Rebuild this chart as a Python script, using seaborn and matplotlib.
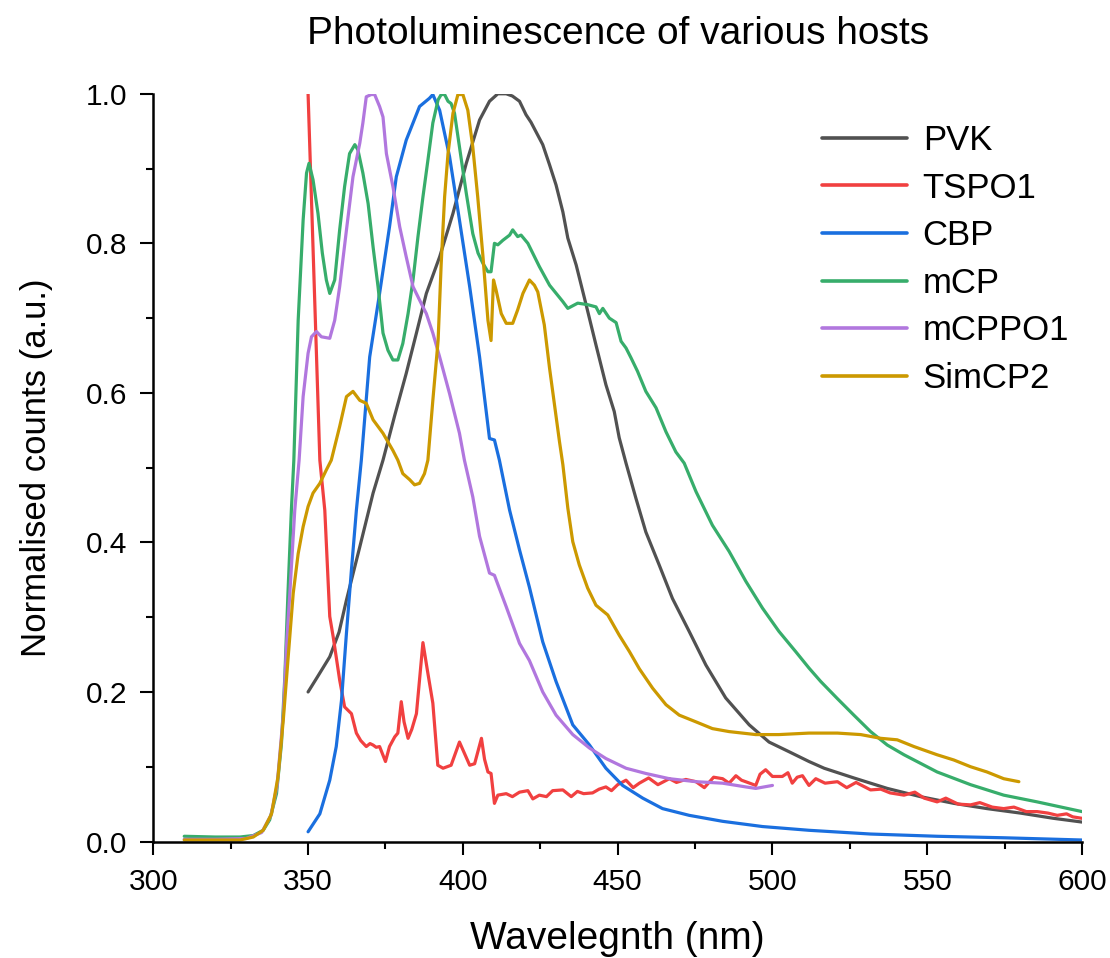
import numpy as np
import pandas as pd
import seaborn as sns
import matplotlib
matplotlib.use("Agg")
import matplotlib.pyplot as plt
from matplotlib.ticker import MultipleLocator, FormatStrFormatter

hosts = ["PVK", "TSPO1", "CBP", "mCP", "mCPPO1", "SimCP2"]
colors = ["#515151", "#F14040", "#1A6FDF", "#37AD6B", "#B177DE", "#CC9900"]

pvk_x = [350, 353, 357, 360, 362.4, 366.7, 371, 374.2, 378, 381.7, 385, 388.2, 392.5, 396.8, 401.1,
         405.4, 408.6, 411.3, 414, 416, 418.3, 420.4, 422, 425.8, 428, 430.1, 432.3, 433.9, 436.6,
         439.8, 443, 446.2, 448.9, 450.5, 452.7, 455.9, 459.1, 463.4, 467.7, 473.1, 478.5, 484.9,
         492.5, 498.9, 505.4, 511.8, 516.7, 526.3, 537.1, 547.8, 558.6, 569.3, 580.1, 590.8, 600]
pvk_y = [0.200, 0.220, 0.247, 0.280, 0.323, 0.394, 0.466, 0.510, 0.570, 0.626, 0.680, 0.733, 0.782,
         0.840, 0.907, 0.965, 0.990, 1.0, 1.0, 0.997, 0.99, 0.972, 0.962, 0.932, 0.905, 0.878, 0.842,
         0.807, 0.771, 0.718, 0.664, 0.611, 0.575, 0.540, 0.506, 0.459, 0.414, 0.370, 0.325, 0.281,
         0.236, 0.192, 0.156, 0.133, 0.120, 0.107, 0.098, 0.085, 0.071, 0.060, 0.051, 0.044, 0.038,
         0.031, 0.026]

tspo_x = [350, 351, 352.5, 353.8, 355.4, 357, 358.1, 360.2, 361.8, 364, 365.6, 367, 368.8, 370, 371,
          372, 373.1, 375, 376.3, 378, 379, 380.1, 381, 382.3, 383.5, 385, 387.1, 388.5, 390.3, 391.9,
          393.6, 396.2, 398.9, 400.5, 402.2, 403.8, 406, 407, 408.1, 409.1, 410.2, 411.3, 414, 416,
          418.3, 421, 422.6, 424.7, 427, 429, 432.3, 435, 437, 439, 441.9, 444, 446.2, 448, 450,
          452.7, 455, 457, 460, 463, 466.7, 469, 472, 475.3, 478, 481, 483.9, 486, 488.2, 490, 492,
          494.6, 496, 497.8, 500, 503.2, 505, 506.4, 508, 509.7, 511.8, 514, 517, 521, 524, 527,
          531.7, 535, 538, 542.5, 546, 549, 553.2, 556, 560, 564, 567, 571, 574.7, 578, 582, 585.5,
          589, 592, 595, 597, 600]
tspo_y = [1.0, 0.871, 0.678, 0.51, 0.443, 0.301, 0.274, 0.216, 0.180, 0.171, 0.145, 0.135, 0.127,
          0.131, 0.129, 0.126, 0.127, 0.107, 0.127, 0.140, 0.145, 0.187, 0.160, 0.138, 0.150, 0.171,
          0.266, 0.230, 0.185, 0.102, 0.098, 0.102, 0.133, 0.118, 0.102, 0.104, 0.138, 0.110, 0.093,
          0.091, 0.051, 0.062, 0.064, 0.060, 0.066, 0.068, 0.057, 0.062, 0.060, 0.068, 0.069, 0.060,
          0.067, 0.064, 0.065, 0.070, 0.073, 0.068, 0.076, 0.082, 0.072, 0.078, 0.085, 0.076, 0.084,
          0.079, 0.083, 0.080, 0.072, 0.086, 0.084, 0.078, 0.088, 0.082, 0.079, 0.075, 0.090, 0.096,
          0.087, 0.087, 0.092, 0.078, 0.086, 0.088, 0.075, 0.084, 0.078, 0.080, 0.072, 0.079, 0.069,
          0.070, 0.065, 0.062, 0.066, 0.058, 0.053, 0.058, 0.050, 0.049, 0.052, 0.046, 0.044, 0.046,
          0.040, 0.040, 0.038, 0.035, 0.037, 0.033, 0.031]

cbp_x = [350, 353.8, 357, 359.1, 360.8, 362.4, 364, 365.6, 367.2, 369.9, 373.1, 376.3, 378.5, 381.7,
         383.9, 386, 389.2, 390.3, 392.5, 395.7, 398.9, 402.2, 405.4, 408.6, 410.2, 411.8, 415.1,
         418.3, 421.5, 425.8, 430.1, 435.5, 440.9, 446.2, 451.6, 458.1, 464.5, 473.1, 483.9, 496.8,
         511.8, 531.7, 553.2, 574.7, 600]
cbp_y = [0.013, 0.037, 0.082, 0.127, 0.189, 0.279, 0.363, 0.443, 0.510, 0.648, 0.733, 0.822, 0.889,
         0.938, 0.961, 0.983, 0.994, 0.999, 0.978, 0.916, 0.831, 0.742, 0.648, 0.539, 0.537, 0.510,
         0.443, 0.390, 0.340, 0.267, 0.214, 0.156, 0.129, 0.098, 0.075, 0.058, 0.044, 0.035, 0.027,
         0.020, 0.015, 0.010, 0.007, 0.005, 0.002]

mcp_x = [310, 320, 328, 332.3, 335.5, 337.6, 339.8, 341.4, 342.5, 343.5, 344.6, 345.4, 346.8, 348.4,
         349.5, 350.3, 351.6, 353.2, 354.6, 355.9, 357, 358.6, 360.2, 361.8, 363.4, 365.1, 366.1,
         367.7, 369.4, 371, 372.6, 374.2, 375.8, 377.4, 379, 380.6, 382.3, 383.9, 385.5, 387.1,
         388.7, 390.3, 392, 393, 394.1, 395.2, 396.2, 397.3, 398.9, 401.1, 403.2, 404.9, 406.5,
         408.1, 409.1, 410.2, 411.3, 412.9, 415.1, 416.1, 417.7, 418.8, 421, 424.7, 428, 432.3,
         433.9, 437.1, 440.3, 443, 444.1, 445.2, 447.3, 449.5, 451.1, 452.7, 454.3, 456.4, 459.1,
         462.4, 465.6, 468.8, 471.5, 475.3, 480.6, 486, 491.4, 496.8, 502.1, 507.5, 511.8, 515.6,
         521, 526.3, 531.7, 537.1, 542.5, 553.2, 564, 574.7, 585.5, 600]
mcp_y = [0.007, 0.006, 0.006, 0.008, 0.015, 0.029, 0.064, 0.131, 0.221, 0.332, 0.443, 0.510, 0.697,
         0.831, 0.894, 0.907, 0.885, 0.840, 0.787, 0.751, 0.733, 0.751, 0.818, 0.876, 0.920, 0.932,
         0.925, 0.894, 0.853, 0.795, 0.742, 0.680, 0.657, 0.644, 0.644, 0.666, 0.706, 0.751, 0.809,
         0.862, 0.911, 0.961, 0.992, 0.999, 0.999, 0.990, 0.987, 0.974, 0.929, 0.867, 0.813, 0.787,
         0.773, 0.762, 0.762, 0.800, 0.798, 0.804, 0.811, 0.818, 0.809, 0.811, 0.800, 0.769, 0.744,
         0.722, 0.713, 0.720, 0.718, 0.715, 0.706, 0.713, 0.700, 0.694, 0.669, 0.660, 0.647, 0.629,
         0.602, 0.580, 0.548, 0.521, 0.506, 0.468, 0.423, 0.388, 0.348, 0.312, 0.281, 0.254, 0.232,
         0.214, 0.191, 0.169, 0.147, 0.129, 0.116, 0.093, 0.076, 0.062, 0.053, 0.040]

mcppo_x = [310, 320, 330, 335, 338, 340, 342, 343, 344.1, 345.7, 347.1, 348.4, 350, 351.1, 352.7,
           354.3, 357, 358.6, 360.2, 362.4, 364.5, 366.7, 367.7, 368.8, 370.4, 371.5, 373.1, 374.2,
           375.3, 377.4, 379.6, 381.7, 383.9, 387.1, 388.2, 390.3, 392.5, 395.7, 398.9, 400.5, 403.2,
           405.4, 408.6, 410.2, 414, 418.3, 421.5, 425.8, 430.1, 435.5, 440.9, 446.2, 452.7, 459.1,
           466.7, 475.3, 483.9, 491.4, 494.6, 500]
mcppo_y = [0.003, 0.003, 0.004, 0.012, 0.035, 0.075, 0.17, 0.26, 0.332, 0.443, 0.51, 0.595, 0.653,
           0.675, 0.682, 0.675, 0.673, 0.697, 0.742, 0.818, 0.889, 0.934, 0.961, 0.996, 0.999, 0.999,
           0.983, 0.969, 0.920, 0.876, 0.822, 0.782, 0.742, 0.715, 0.706, 0.680, 0.648, 0.599, 0.546,
           0.510, 0.461, 0.408, 0.359, 0.356, 0.314, 0.265, 0.242, 0.200, 0.169, 0.143, 0.125, 0.111,
           0.098, 0.091, 0.084, 0.080, 0.078, 0.073, 0.071, 0.075]

simcp_x = [310, 320, 328, 332.3, 335.5, 338.2, 340.3, 342, 343.5, 345.2, 346.8, 348.4, 350, 351.6,
           353.8, 355.9, 357.5, 360.2, 362.4, 364.5, 366.7, 368.8, 371, 374.2, 377.4, 379, 380.6,
           382.8, 384.4, 386, 387.6, 388.7, 390.3, 392, 393, 394.1, 395.2, 396.8, 398.4, 400, 401.6,
           403.2, 404.8, 406.5, 408.1, 409.1, 409.9, 410.7, 412.4, 414, 416.1, 417.7, 419.4, 421.5,
           423.1, 424.2, 426.3, 428, 429.6, 431.2, 432.3, 433.9, 435.5, 437.6, 440.3, 443, 446.8,
           450.5, 453.8, 457, 461.3, 465.6, 469.9, 475.3, 480.6, 486, 494.6, 502.1, 511.8, 521,
           528.5, 535, 540.3, 545.7, 553.2, 558.6, 564, 569.3, 574.7, 579.6]
simcp_y = [0.002, 0.002, 0.002, 0.006, 0.015, 0.037, 0.087, 0.163, 0.243, 0.332, 0.385, 0.421, 0.448,
           0.466, 0.479, 0.497, 0.510, 0.555, 0.595, 0.602, 0.590, 0.586, 0.564, 0.546, 0.523, 0.510,
           0.492, 0.484, 0.477, 0.479, 0.492, 0.510, 0.590, 0.670, 0.773, 0.862, 0.920, 0.974, 0.999,
           0.999, 0.978, 0.929, 0.862, 0.782, 0.697, 0.670, 0.751, 0.738, 0.706, 0.693, 0.693, 0.711,
           0.733, 0.751, 0.744, 0.735, 0.691, 0.633, 0.584, 0.535, 0.504, 0.446, 0.401, 0.370, 0.339,
           0.316, 0.303, 0.276, 0.254, 0.231, 0.205, 0.183, 0.169, 0.160, 0.151, 0.147, 0.143, 0.143,
           0.145, 0.145, 0.143, 0.138, 0.136, 0.127, 0.116, 0.109, 0.100, 0.093, 0.084, 0.080]

series = {"PVK": (pvk_x, pvk_y), "TSPO1": (tspo_x, tspo_y), "CBP": (cbp_x, cbp_y),
          "mCP": (mcp_x, mcp_y), "mCPPO1": (mcppo_x, mcppo_y), "SimCP2": (simcp_x, simcp_y)}
frames = []
for name in hosts:
    xs, ys = series[name]
    frames.append(pd.DataFrame({"wl": xs, "counts": ys, "host": name}))
df = pd.concat(frames, ignore_index=True)

sns.set_style("ticks")
plt.rcParams["font.family"] = ["Liberation Sans", "DejaVu Sans"]
plt.rcParams["text.color"] = "black"
plt.rcParams["axes.labelcolor"] = "black"
plt.rcParams["xtick.color"] = "black"
plt.rcParams["ytick.color"] = "black"

fig = plt.figure(figsize=(11.10, 9.58), dpi=100)
ax = fig.add_axes([0.1381, 0.1216, 0.9748 - 0.1381, 0.9021 - 0.1216])

sns.lineplot(data=df, x="wl", y="counts", hue="host", hue_order=hosts,
             palette=dict(zip(hosts, colors)), estimator=None, sort=False,
             linewidth=2.3, ax=ax, legend=True)

ax.set_xlim(300, 600)
ax.set_ylim(0, 1.0)
ax.xaxis.set_major_locator(MultipleLocator(50))
ax.xaxis.set_minor_locator(MultipleLocator(25))
ax.yaxis.set_major_locator(MultipleLocator(0.2))
ax.yaxis.set_minor_locator(MultipleLocator(0.1))
ax.yaxis.set_major_formatter(FormatStrFormatter("%.1f"))
for s in ["top", "right"]:
    ax.spines[s].set_visible(False)
for s in ["left", "bottom"]:
    ax.spines[s].set_linewidth(1.8)
    ax.spines[s].set_color("black")
ax.tick_params(which="major", direction="out", length=9.4, width=1.5, labelsize=21.5,
               labelcolor="black", color="black")
ax.tick_params(which="minor", direction="out", length=4.8, width=1.5, color="black")
ax.tick_params(axis="x", which="major", pad=10)
ax.tick_params(axis="y", which="major", pad=9)

ax.set_xlabel("Wavelegnth (nm)", fontsize=28, labelpad=18, color="black")
ax.set_ylabel("Normalised counts (a.u.)", fontsize=25, labelpad=24, color="black")
fig.text(0.557, 0.965, "Photoluminescence of various hosts", fontsize=28,
         ha="center", va="center", color="black")

handles, labels = ax.get_legend_handles_labels()
leg = ax.legend(handles, labels, loc="upper left", bbox_to_anchor=(822 / 1110, 1 - 124 / 958),
                bbox_transform=fig.transFigure, frameon=False, fontsize=25,
                handlelength=2.45, handletextpad=0.45, labelspacing=0.42, borderpad=0,
                borderaxespad=0)
for line in leg.get_lines():
    line.set_linewidth(2.6)

fig.savefig("out.png", dpi=100)
